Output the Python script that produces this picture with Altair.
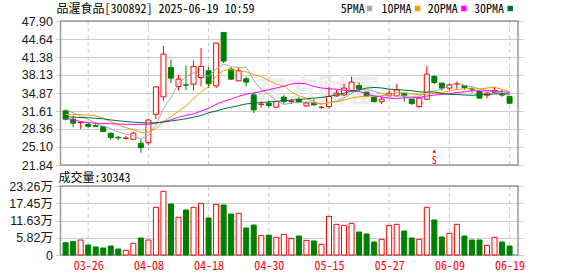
import altair as alt
import pandas as pd

# ---------------- data ----------------
dates = ["03-21", "03-24", "03-25", "03-26", "03-27", "03-28", "03-31", "04-01", "04-02", "04-03",
         "04-07", "04-08", "04-09", "04-10", "04-11", "04-14", "04-15", "04-16", "04-17", "04-18",
         "04-21", "04-22", "04-23", "04-24", "04-25", "04-28", "04-29", "04-30", "05-06", "05-07",
         "05-08", "05-09", "05-12", "05-13", "05-14", "05-15", "05-16", "05-19", "05-20", "05-21",
         "05-22", "05-23", "05-26", "05-27", "05-28", "05-29", "05-30", "06-03", "06-04", "06-05",
         "06-06", "06-09", "06-10", "06-11", "06-12", "06-13", "06-16", "06-17", "06-18", "06-19"]

opens = [31.63, 30.13, 29.50, 29.20, 28.95, 28.78, 27.59, 26.85, 26.65, 26.50,
         25.77, 25.88, 31.03, 34.17, 39.49, 36.04, 36.35, 36.47, 37.67, 38.89,
         36.17, 45.83, 39.19, 37.07, 37.44, 34.53, 32.80, 33.02, 32.30, 34.12,
         33.30, 33.75, 32.54, 33.02, 32.25, 32.41, 34.35, 34.53, 35.31, 36.20,
         35.03, 34.05, 33.32, 34.35, 34.35, 34.84, 33.75, 32.41, 33.75, 37.85,
         36.66, 35.75, 36.50, 36.23, 35.60, 35.13, 34.47, 35.00, 34.60, 34.23]
highs = [31.90, 30.78, 29.70, 29.50, 29.55, 28.90, 27.70, 27.10, 27.10, 27.88,
         26.50, 30.13, 36.10, 43.42, 40.94, 38.16, 39.85, 40.75, 43.00, 39.56,
         44.00, 45.90, 39.56, 39.49, 37.85, 34.84, 33.32, 33.45, 33.40, 34.53,
         33.75, 34.12, 33.20, 33.75, 32.55, 35.93, 35.44, 36.53, 37.85, 36.77,
         35.10, 34.35, 34.12, 35.60, 36.47, 34.90, 33.80, 34.10, 39.79, 38.10,
         36.70, 36.66, 36.95, 36.30, 36.04, 35.30, 35.00, 35.93, 35.56, 34.30]
lows = [29.90, 28.68, 28.37, 28.60, 28.70, 27.80, 26.37, 26.37, 26.45, 26.45,
        24.07, 25.41, 30.13, 33.45, 36.66, 35.31, 35.39, 35.31, 36.04, 35.75,
        35.75, 40.28, 37.25, 37.00, 36.04, 31.22, 32.23, 32.23, 32.20, 32.85,
        32.85, 33.03, 32.40, 32.60, 31.94, 32.12, 34.20, 34.35, 35.20, 35.13,
        34.20, 33.14, 32.85, 34.35, 34.20, 33.32, 32.72, 32.23, 33.60, 36.47,
        35.31, 35.31, 35.62, 35.44, 34.95, 33.90, 33.94, 34.84, 34.20, 33.00]
closes = [30.13, 29.40, 29.55, 28.85, 28.85, 27.88, 26.79, 26.75, 26.72, 27.59,
          24.98, 29.98, 35.98, 41.92, 37.56, 37.38, 36.30, 39.67, 39.67, 36.53,
          43.91, 40.65, 37.38, 38.89, 36.84, 31.81, 32.85, 32.60, 33.32, 33.32,
          33.35, 33.14, 33.07, 32.72, 32.30, 34.23, 34.84, 35.75, 36.84, 35.62,
          34.35, 33.32, 33.75, 34.84, 35.44, 34.35, 32.95, 33.94, 38.29, 36.77,
          35.75, 36.35, 36.53, 35.86, 35.56, 33.94, 34.84, 35.31, 34.50, 33.02]

# volume in 万 (10k) shares
volumes = [4.15, 4.50, 5.06, 3.37, 2.70, 2.36, 3.03, 2.02, 1.57, 3.93,
           5.73, 5.06, 16.07, 21.46, 17.19, 12.70, 15.17, 16.07, 17.42, 12.47,
           17.08, 16.86, 13.82, 14.05, 9.10, 10.10, 6.63, 6.70, 5.96, 6.97,
           5.62, 6.40, 4.94, 4.72, 3.60, 13.03, 10.34, 10.00, 10.67, 7.75,
           7.08, 4.38, 5.28, 10.00, 10.34, 8.09, 5.73, 5.28, 16.07, 11.80,
           6.07, 7.30, 10.34, 6.40, 5.06, 5.06, 3.26, 5.96, 4.38, 3.03]
vol_up = [0, 0, 1, 0, 0, 0, 0, 0, 1, 1,
          0, 1, 1, 1, 0, 1, 0, 1, 1, 0,
          1, 0, 0, 1, 0, 0, 1, 0, 1, 1,
          1, 0, 1, 0, 1, 1, 1, 1, 1, 0,
          0, 0, 1, 1, 1, 0, 0, 1, 1, 0,
          0, 1, 1, 0, 0, 0, 1, 1, 0, 0]

ma5 = [31.90, 31.30, 30.70, 30.10, 29.36, 28.91, 28.38, 27.82, 27.40, 27.15,
       26.57, 27.20, 29.05, 32.09, 34.08, 36.56, 37.83, 38.57, 38.12, 37.91,
       39.22, 40.09, 39.63, 39.47, 39.53, 37.11, 35.54, 34.59, 33.47, 32.77,
       33.08, 33.15, 33.24, 33.12, 32.92, 33.09, 33.43, 33.97, 34.79, 35.46,
       35.48, 35.18, 34.78, 34.38, 34.34, 34.34, 34.27, 34.30, 34.99, 35.26,
       35.54, 36.22, 36.74, 36.25, 36.01, 35.65, 35.35, 35.10, 34.83, 34.32]
ma10 = [31.00, 31.00, 30.95, 30.85, 30.75, 30.30, 29.70, 29.10, 28.60, 28.25,
        27.74, 27.79, 28.44, 29.74, 30.62, 31.57, 32.52, 33.81, 35.10, 36.00,
        37.89, 38.96, 39.10, 38.79, 38.72, 38.17, 37.82, 37.11, 36.47, 36.15,
        35.10, 34.35, 33.91, 33.30, 32.84, 33.09, 33.29, 33.60, 33.96, 34.19,
        34.29, 34.30, 34.37, 34.58, 34.90, 34.91, 34.72, 34.54, 34.69, 34.80,
        34.94, 35.24, 35.52, 35.62, 35.64, 35.59, 35.78, 35.92, 35.54, 35.17]
ma20 = [30.30, 30.00, 29.70, 29.50, 29.40, 29.35, 29.30, 29.25, 29.20, 29.20,
        29.20, 29.20, 29.40, 29.70, 30.00, 30.50, 30.80, 31.10, 31.60, 32.12,
        32.81, 33.38, 33.77, 34.27, 34.67, 34.87, 35.17, 35.46, 35.79, 36.07,
        36.49, 36.65, 36.51, 36.05, 35.78, 35.63, 35.55, 35.36, 35.21, 35.17,
        34.69, 34.32, 34.14, 33.94, 33.87, 34.00, 34.01, 34.07, 34.32, 34.49,
        34.61, 34.77, 34.95, 35.10, 35.27, 35.25, 35.25, 35.23, 35.11, 34.98]
ma30 = [30.60, 30.50, 30.45, 30.40, 30.30, 30.20, 30.00, 29.85, 29.70, 29.60,
        29.50, 29.45, 29.50, 29.60, 29.80, 30.00, 30.20, 30.50, 30.80, 31.30,
        31.60, 32.00, 32.30, 32.60, 32.90, 33.00, 33.15, 33.25, 33.35, 33.47,
        33.57, 33.70, 33.82, 33.95, 34.06, 34.27, 34.54, 34.84, 35.18, 35.45,
        35.76, 35.87, 35.79, 35.56, 35.49, 35.39, 35.28, 35.08, 35.04, 35.05,
        34.77, 34.63, 34.60, 34.50, 34.46, 34.53, 34.60, 34.69, 34.73, 34.72]

price_ticks = [21.84, 25.10, 28.36, 31.61, 34.87, 38.13, 41.38, 44.64, 47.90]
vol_ticks = [0, 5.82, 11.63, 17.45, 23.26]
label_days = [4, 12, 20, 28, 36, 44, 52, 60]
ma_names = ["5PMA", "10PMA", "20PMA", "30PMA"]
signal_days = [50]
signal_labels = ["S"]
title_text = "品渥食品[300892] 2025-06-19 10:59"
vol_title = "成交量:30343"
watermark = "东方财富"

# ---------------- styles ----------------
RED = "#ff0000"
GREEN = "#008000"
GRID = "#cccccc"
FRAME = "#999999"
MA_COLORS = ["#a8a8a8", "#f0a000", "#ff00ff", "#00703c"]
MONO = "Noto Sans Mono CJK SC, Liberation Mono, Noto Sans CJK SC, monospace"
SANS = "Liberation Sans, Arial, Noto Sans CJK SC, sans-serif"

W, H = 467.5, 234
X0, X1 = 0.32, 61.12

idx = list(range(1, len(dates) + 1))
df = pd.DataFrame({"i": idx, "date": dates, "open": opens, "high": highs,
                   "low": lows, "close": closes, "vol": volumes})
df["up"] = df["close"] >= df["open"]
df["vup"] = [bool(v) for v in vol_up]

ma_df = pd.concat([pd.DataFrame({"i": idx, "v": vals, "s": name})
                   for name, vals in zip(ma_names, [ma5, ma10, ma20, ma30])])
days_df = pd.DataFrame({"d": label_days})
sig_df = pd.DataFrame({"i": signal_days, "t": signal_labels})

xs = alt.Scale(domain=[X0, X1], nice=False, zero=False)
ps = alt.Scale(domain=[price_ticks[0], price_ticks[-1]], range=[144, 0], nice=False, zero=False)
vs = alt.Scale(domain=[vol_ticks[0], vol_ticks[-1]], range=[234, 165], nice=False, zero=False)

label_expr = "[" + ",".join("'%s'" % d for d in dates) + "][datum.value - 1]"
xaxis = alt.Axis(values=label_days, labelExpr=label_expr, grid=False, domain=False, ticks=False,
                 labelPadding=5, labelColor=RED, labelFont=MONO, labelFontSize=12,
                 labelFlush=False, title=None)
paxis = alt.Axis(values=price_ticks, format=".2f", grid=True, gridColor=GRID, gridWidth=1,
                 domain=False, ticks=False, labelPadding=3, labelFont=SANS, labelFontSize=12.5,
                 labelColor="#1a1a1a", labelOverlap=False, orient="left", title=None)
vaxis = alt.Axis(values=vol_ticks,
                 labelExpr="datum.value == 0 ? '0' : format(datum.value, '.2f') + '万'",
                 grid=True, gridColor=GRID, gridWidth=1, domain=False, ticks=False,
                 labelPadding=3, labelFont=SANS, labelFontSize=12.5, labelColor="#1a1a1a",
                 labelOverlap=False, orient="left", title=None)

xi = alt.X("i:Q", scale=xs, axis=xaxis)
base = alt.Chart(df)

# ---------------- price panel ----------------
wm = alt.Chart(pd.DataFrame({"t": [watermark]})).mark_text(
    font="Noto Sans CJK SC", fontSize=31, fontWeight="bold", color="#ededed",
    align="center", baseline="middle").encode(
    x=alt.value(262), y=alt.value(71), text="t:N")

vgrid_p = alt.Chart(days_df).mark_rule(color=GRID, strokeDash=[4, 3], strokeWidth=1).encode(
    x=alt.X("d:Q", scale=xs, axis=xaxis),
    y=alt.YDatum(price_ticks[-1], scale=ps, axis=paxis),
    y2=alt.Y2Datum(price_ticks[0]))

frame_p = alt.Chart(pd.DataFrame({"k": [0]})).mark_rect(
    fillOpacity=0, stroke=FRAME, strokeWidth=1.5).encode(
    x=alt.XDatum(X0, scale=xs, axis=xaxis), x2=alt.X2Datum(X1),
    y=alt.YDatum(price_ticks[-1], scale=ps, axis=paxis), y2=alt.Y2Datum(price_ticks[0]))

wicks = base.mark_rule(strokeWidth=1).encode(
    x=xi,
    y=alt.Y("low:Q", scale=ps, axis=paxis), y2="high:Q",
    color=alt.condition(alt.datum.up, alt.value(RED), alt.value(GREEN)))

bodies = base.mark_bar(size=5, strokeWidth=1).encode(
    x=xi,
    y=alt.Y("open:Q", scale=ps, axis=paxis), y2="close:Q",
    fill=alt.condition(alt.datum.up, alt.value("#ffffff"), alt.value(GREEN)),
    stroke=alt.condition(alt.datum.up, alt.value(RED), alt.value(GREEN)))

lines = alt.Chart(ma_df).mark_line(strokeWidth=1).encode(
    x=xi,
    y=alt.Y("v:Q", scale=ps, axis=paxis),
    color=alt.Color("s:N", scale=alt.Scale(domain=ma_names, range=MA_COLORS), legend=None),
    detail="s:N")

# signal marker: small up-arrow above an "S"
sig_arrow = alt.Chart(sig_df).mark_point(shape="triangle-up", filled=True, size=14,
                                         color=RED, opacity=1).encode(
    x=xi, y=alt.YDatum(24.35, scale=ps, axis=paxis))
sig_text = alt.Chart(sig_df).mark_text(font=MONO, fontSize=10, color=RED, baseline="middle").encode(
    x=xi, y=alt.YDatum(22.62, scale=ps, axis=paxis), text="t:N")

price = alt.layer(wm, vgrid_p, frame_p, wicks, bodies, lines, sig_arrow, sig_text)

# ---------------- volume panel ----------------
vgrid_v = alt.Chart(days_df).mark_rule(color=GRID, strokeDash=[4, 3], strokeWidth=1).encode(
    x=alt.X("d:Q", scale=xs, axis=xaxis),
    y=alt.YDatum(vol_ticks[-1], scale=vs, axis=vaxis),
    y2=alt.Y2Datum(vol_ticks[0]))

frame_v = alt.Chart(pd.DataFrame({"k": [0]})).mark_rect(
    fillOpacity=0, stroke=FRAME, strokeWidth=1.5).encode(
    x=alt.XDatum(X0, scale=xs, axis=xaxis), x2=alt.X2Datum(X1),
    y=alt.YDatum(vol_ticks[-1], scale=vs, axis=vaxis), y2=alt.Y2Datum(vol_ticks[0]))

vbars = base.mark_bar(size=5, strokeWidth=1).encode(
    x=xi,
    y=alt.Y("vol:Q", scale=vs, axis=vaxis),
    fill=alt.condition(alt.datum.vup, alt.value("#ffffff"), alt.value(GREEN)),
    stroke=alt.condition(alt.datum.vup, alt.value(RED), alt.value(GREEN)))

volume = alt.layer(vgrid_v, frame_v, vbars)

# ---------------- texts: title, legend, volume caption ----------------
title = alt.Chart(pd.DataFrame({"t": [title_text]})).mark_text(
    font=MONO, fontSize=12, color="#000000", align="left", baseline="middle").encode(
    x=alt.value(1), y=alt.value(-12.5), text="t:N")

vcap = alt.Chart(pd.DataFrame({"t": [vol_title]})).mark_text(
    font=MONO, fontSize=12, color="#000000", align="left", baseline="middle").encode(
    x=alt.value(3), y=alt.value(156.5), text="t:N")

legend_layers = []
text_x = [285.2, 326.0, 372.3, 418.5]
sq_x = [314.0, 362.1, 408.4, 454.7]
for k, (name, col) in enumerate(zip(ma_names, MA_COLORS)):
    ldf = pd.DataFrame({"t": [name]})
    legend_layers.append(alt.Chart(ldf).mark_text(
        font=MONO, fontSize=12, color="#000000", align="left", baseline="middle").encode(
        x=alt.value(text_x[k]), y=alt.value(-12.5), text="t:N"))
    legend_layers.append(alt.Chart(ldf).mark_square(size=30, color=col, opacity=1).encode(
        x=alt.value(sq_x[k]), y=alt.value(-12.5)))

chart = alt.layer(price, volume, title, vcap, *legend_layers).resolve_scale(
    y="independent"
).properties(
    width=W, height=H,
    padding={"left": 55.5, "top": 21, "right": 55, "bottom": 21},
    autosize=alt.AutoSizeParams(type="none"),
    background="#ffffff",
).configure_view(stroke="transparent")

chart.save("out.html", embed_options={"renderer": "svg", "actions": False})
